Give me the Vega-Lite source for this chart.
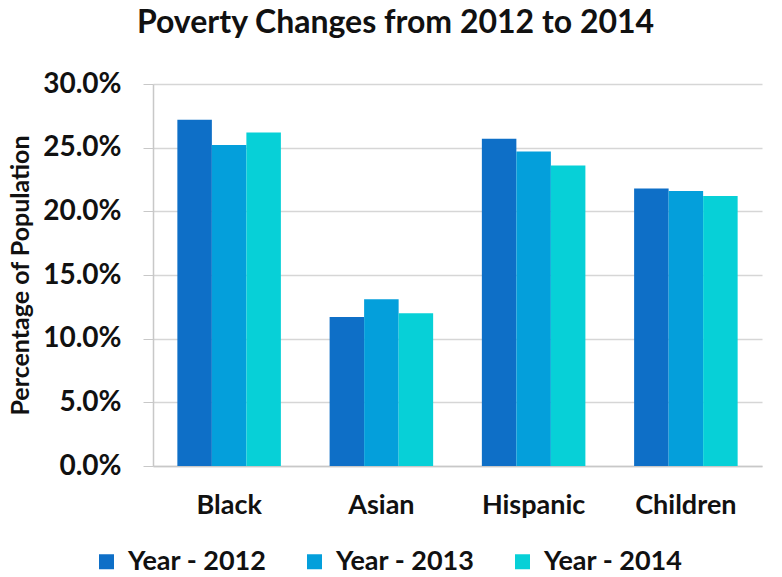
{
  "$schema": "https://vega.github.io/schema/vega-lite/v6.json",
  "width": 609,
  "height": 382,
  "autosize": {"type": "none"},
  "padding": {"left": 153, "top": 84, "right": 20, "bottom": 111},
  "background": "white",
  "title": {
    "text": "Poverty Changes from 2012 to 2014",
    "font": "Lato",
    "fontSize": 32,
    "fontWeight": "bold",
    "color": "#111111",
    "anchor": "middle",
    "dx": -62,
    "offset": 30
  },
  "data": {
    "values": [
      {"group": "Black", "year": "Year - 2012", "value": 0.272},
      {"group": "Black", "year": "Year - 2013", "value": 0.252},
      {"group": "Black", "year": "Year - 2014", "value": 0.262},
      {"group": "Asian", "year": "Year - 2012", "value": 0.117},
      {"group": "Asian", "year": "Year - 2013", "value": 0.131},
      {"group": "Asian", "year": "Year - 2014", "value": 0.120},
      {"group": "Hispanic", "year": "Year - 2012", "value": 0.257},
      {"group": "Hispanic", "year": "Year - 2013", "value": 0.247},
      {"group": "Hispanic", "year": "Year - 2014", "value": 0.236},
      {"group": "Children", "year": "Year - 2012", "value": 0.218},
      {"group": "Children", "year": "Year - 2013", "value": 0.216},
      {"group": "Children", "year": "Year - 2014", "value": 0.212}
    ]
  },
  "mark": {"type": "bar", "stroke": null},
  "encoding": {
    "x": {
      "field": "group",
      "type": "nominal",
      "sort": ["Black", "Asian", "Hispanic", "Children"],
      "scale": {"paddingInner": 0.32, "paddingOuter": 0.16},
      "axis": {
        "title": null,
        "labelAngle": 0,
        "labelFont": "Lato",
        "labelFontSize": 27,
        "labelFontWeight": "bold",
        "labelColor": "#111111",
        "labelPadding": 26,
        "ticks": false,
        "domainColor": "#c8c8c8",
        "domainWidth": 1.5
      }
    },
    "xOffset": {
      "field": "year",
      "type": "nominal",
      "scale": {"paddingInner": 0, "paddingOuter": 0}
    },
    "y": {
      "field": "value",
      "type": "quantitative",
      "scale": {"domain": [0, 0.3], "nice": false},
      "axis": {
        "title": "Percentage of Population",
        "titleFont": "Lato",
        "titleFontSize": 25,
        "titleFontWeight": "bold",
        "titleColor": "#111111",
        "titlePadding": 9,
        "format": ".1%",
        "values": [0, 0.05, 0.1, 0.15, 0.2, 0.25, 0.3],
        "labelOverlap": false,
        "labelFont": "Lato",
        "labelFontSize": 28,
        "labelFontWeight": "bold",
        "labelColor": "#111111",
        "labelPadding": 22,
        "tickSize": 10,
        "tickColor": "#c8c8c8",
        "domainColor": "#c8c8c8",
        "domainWidth": 1.5,
        "gridColor": "#d6d6d6",
        "gridWidth": 1.5
      }
    },
    "color": {
      "field": "year",
      "type": "nominal",
      "scale": {
        "domain": ["Year - 2012", "Year - 2013", "Year - 2014"],
        "range": ["#0e6fc7", "#049fdb", "#07d0d7"]
      },
      "legend": {
        "title": null,
        "orient": "none",
        "direction": "horizontal",
        "legendX": -60,
        "legendY": 464,
        "symbolType": "square",
        "symbolSize": 225,
        "symbolStrokeWidth": 0,
        "labelFont": "Lato",
        "labelFontSize": 27,
        "labelFontWeight": "bold",
        "labelColor": "#111111",
        "labelLimit": 300,
        "labelOffset": 8,
        "columnPadding": 34
      }
    }
  },
  "config": {"view": {"stroke": null}}
}
